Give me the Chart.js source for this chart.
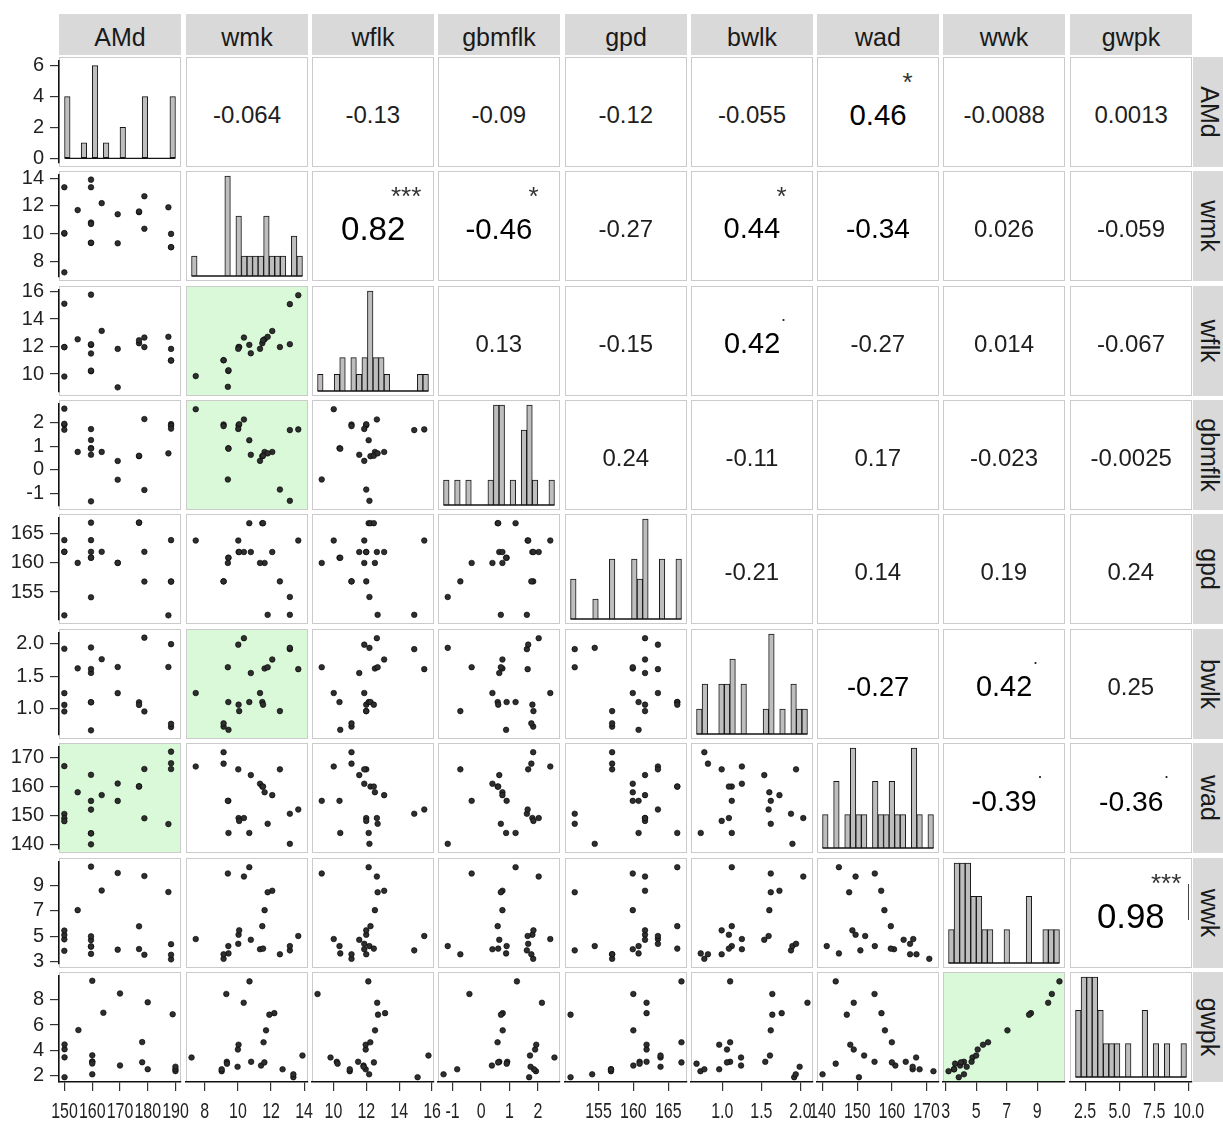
<!DOCTYPE html>
<html><head><meta charset="utf-8">
<script src="https://cdn.jsdelivr.net/npm/chart.js@4.4.1/dist/chart.umd.min.js"></script>
<style>
html,body{margin:0;padding:0;background:#fff;}
body{width:1223px;height:1122px;position:relative;overflow:hidden;font-family:"Liberation Sans",Arial,Helvetica,sans-serif;}
.panel{position:absolute;box-sizing:border-box;border:1.5px solid #cbcbcb;background:#fff;}
.strip{position:absolute;background:#d9d9d9;overflow:hidden;}
.txt{position:absolute;white-space:nowrap;}
canvas{position:absolute;}
</style></head><body>
<script>
// ================= DATA =================
const variables = ['AMd','wmk','wflk','gbmflk','gpd','bwlk','wad','wwk','gwpk'];

const AMd    = [150,150,150,150,155,160,160,160,160,160,160,164,170,170,178,178,180,180,189,190,190,190];
const wmk    = [7.2,13.35,10.0,10.04,11.7,10.8,9.33,13.9,9.34,10.7,13.35,12.2,11.4,9.3,11.55,11.6,12.7,10.35,11.9,9.02,9.02,9.98];
const wflk   = [9.82,15.12,11.96,11.96,12.53,11.5,10.2,15.78,10.25,12.12,12.17,13.14,11.83,9.03,12.24,12.46,11.96,12.66,12.71,10.99,10.99,11.83];
const gbmflk = [2.58,1.69,1.9,1.94,0.76,0.64,0.92,1.72,0.9,1.26,-1.32,0.76,0.38,-0.41,0.58,0.6,-0.84,2.14,0.7,1.93,1.86,1.74];
const gpd    = [163.9,151,161.9,161.9,160,161.9,160.9,163.9,160.9,166.9,154.1,161.9,160,160,166.9,166.9,156.8,161.9,151,156.8,156.8,163.9];
const bwlk   = [1.24,1.92,1.06,0.96,1.62,1.55,1.1,1.61,0.67,1.1,1.94,1.76,1.24,1.64,1.1,1.06,0.96,2.09,1.64,0.72,0.77,1.99];
const wad    = [167,150.5,149,148,158,164,155,152,143.8,143.8,140,157,161,155,160,160,166,149,147,172,168,166];
const wwk    = [4.76,3.86,5.1,5.45,7.05,4.7,4.2,5.0,3.62,10.46,4.2,8.59,3.95,9.96,5.78,4.0,3.55,9.72,8.47,3.19,3.55,4.38];
const gwpk   = [3.44,1.87,4.08,4.46,5.6,3.1,3.1,3.6,2.95,9.5,2.1,6.97,2.8,8.5,4.65,3.05,2.5,7.8,6.85,2.35,2.5,2.7];

// tick labels
const ticksAMd    = ['150','160','170','180','190'];
const ticksWmk    = ['8','10','12','14'];
const ticksWflk   = ['10','12','14','16'];
const ticksGbmflk = ['-1','0','1','2'];
const ticksGpd    = ['155','160','165'];
const ticksBwlk   = ['1.0','1.5','2.0'];
const ticksWad    = ['140','150','160','170'];
const ticksWwk    = ['3','5','7','9'];
const ticksGwpk   = ['2','4','6','8'];
const ticksCount  = ['0','2','4','6'];
const ticksGwpkHist = ['2.5','5.0','7.5','10.0'];

// upper-triangle correlation labels (row i, columns i+1..8)
const corrLabels = [
  ['-0.064','-0.13','-0.09','-0.12','-0.055','0.46','-0.0088','0.0013'],
  ['0.82','-0.46','-0.27','0.44','-0.34','0.026','-0.059'],
  ['0.13','-0.15','0.42','-0.27','0.014','-0.067'],
  ['0.24','-0.11','0.17','-0.023','-0.0025'],
  ['-0.21','0.14','0.19','0.24'],
  ['-0.27','0.42','0.25'],
  ['-0.39','-0.36'],
  ['0.98']
];
const corrSig = [
  ['','','','','','*','',''],
  ['***','*','','*','','',''],
  ['','','.','','',''],
  ['','','','',''],
  ['','','',''],
  ['','.',''],
  ['.','.'],
  ['***']
];

// ================= STYLE / LAYOUT =================
const FONT = '"Liberation Sans", Arial, Helvetica, sans-serif';
const TICK_COLOR = '#222';
const emphExtra = [[1,6],[5,6]]; // larger text without significance mark
const COL_X = [59,186,312,438,565,691,817,943,1070], PW = 122;
const ROW_Y = [57,171,286,400,514,629,743,858,972], PH = 110;
const N = variables.length;
const data = {AMd, wmk, wflk, gbmflk, gpd, bwlk, wad, wwk, gwpk};
const varTicks = {AMd:ticksAMd, wmk:ticksWmk, wflk:ticksWflk, gbmflk:ticksGbmflk, gpd:ticksGpd,
                  bwlk:ticksBwlk, wad:ticksWad, wwk:ticksWwk, gwpk:ticksGwpk};

Chart.defaults.font.family = FONT;
Chart.defaults.animation = false;

function range(v){ const mn=Math.min(...v), mx=Math.max(...v), r=mx-mn; return {min:mn-0.05*r, max:mx+0.05*r}; }
function histogram(v){
  const nb = 20, mn = Math.min(...v), mx = Math.max(...v);
  const w = (mx-mn)/(nb-1), b = w/2;
  const o = b + Math.floor((mn-b)/w)*w;
  const counts = new Array(nb).fill(0);
  v.forEach(x => { let k = Math.ceil((x-o)/w - 1e-7) - 1; k = Math.max(0, Math.min(nb-1, k)); counts[k]++; });
  return {o, w, nb, counts, maxc: Math.max(...counts)};
}
function el(tag, cls, style, text){
  const e = document.createElement(tag); if (cls) e.className = cls;
  Object.assign(e.style, style); if (text !== undefined) e.textContent = text;
  document.body.appendChild(e); return e;
}
function bottomLabelPlugin(labels){
  return { id:'bottomLabels', afterDraw(chart){
    const s = chart.scales.x, ctx = chart.ctx;
    ctx.save(); ctx.font = '21px ' + FONT; ctx.fillStyle = TICK_COLOR;
    ctx.textAlign = 'center'; ctx.textBaseline = 'alphabetic';
    labels.forEach(l => {
      const px = s.getPixelForValue(parseFloat(l));
      ctx.save(); ctx.translate(px, s.top + 36); ctx.scale(0.76, 1.04); ctx.fillText(l, 0, 0); ctx.restore();
    });
    ctx.restore();
  }};
}
function axisCfg(show, mn, mx, ticks, isX, size){
  return {
    type:'linear', min:mn, max:mx, display:show, offset:false,
    afterBuildTicks: s => { s.ticks = ticks.map(t => ({value: parseFloat(t)})); },
    afterFit: s => { if (!show) return; if (isX) s.height = size; else s.width = size; },
    grid:{display:true, offset:false, drawOnChartArea:false, drawTicks:true, tickLength:9, color:'#333', lineWidth:1.2},
    border:{display:true, color:'#111', width:1.5},
    ticks:{display:show && !isX, autoSkip:false, padding:6, color:TICK_COLOR, font:{size:20, family:FONT},
           callback:(v,i) => ticks[i]}
  };
}
function isGreen(r, c){ // lower cell r>c
  const s = corrSig[c][r-c-1]; return s.indexOf('*') >= 0;
}

// ---- strips ----
variables.forEach((v, i) => {
  el('div','strip',{left:COL_X[i]+'px', top:'14px', width:PW+'px', height:'41px'});
  el('div','txt',{left:COL_X[i]+'px', top:(37.5-0.4885*25)+'px', width:PW+'px', textAlign:'center',
      fontSize:'25px', lineHeight:'25px', color:'#1a1a1a'}, v);
  el('div','strip',{left:'1193px', top:ROW_Y[i]+'px', width:'40px', height:PH+'px'});
  const cy = ROW_Y[i] + PH/2;
  el('div','txt',{left:(1210-55)+'px', top:(cy-17)+'px', width:'110px', height:'34px', lineHeight:'34px',
      textAlign:'center', fontSize:'25px', color:'#1a1a1a', transform:'rotate(90deg)', transformOrigin:'50% 50%'}, v);
});

// ---- panels ----
for (let r = 0; r < N; r++) {
  for (let c = 0; c < N; c++) {
    const bg = (r > c && isGreen(r,c)) ? '#d9f9d9' : '#fff';
    el('div','panel',{left:COL_X[c]+'px', top:ROW_Y[r]+'px', width:PW+'px', height:PH+'px', background:bg});
    if (c > r) {
      // correlation text
      const lab = corrLabels[r][c-r-1], sig = corrSig[r][c-r-1];
      const absr = Math.abs(parseFloat(lab));
      const emph = sig !== '' || emphExtra.some(p => p[0]===r && p[1]===c);
      const F = emph ? 24.5 + 10.5*absr : 24;
      const cx = COL_X[c] + PW/2, cy = ROW_Y[r] + PH/2 + 2.5;
      const t = el('div','txt',{left:'0px', top:(cy-0.4885*F)+'px', fontSize:F+'px', lineHeight:F+'px',
          color: emph ? '#000' : '#1e1e1e'}, lab);
      const tw = t.offsetWidth;
      t.style.left = (cx - tw/2) + 'px';
      const right = cx + tw/2;
      if (sig.indexOf('*') >= 0) {
        const s = el('div','txt',{left:'0px', top:(cy-38-0.28*26)+'px', fontSize:'26px', lineHeight:'26px', color:'#333'}, sig);
        s.style.left = (right - s.offsetWidth/2 + 1) + 'px';
      } else if (sig === '.') {
        el('div','txt',{left:(right+1)+'px', top:(cy-23-0.8*18)+'px', fontSize:'18px', lineHeight:'18px', color:'#222'}, '.');
      }
      continue;
    }
    const showY = c === 0, showX = r === N-1;
    const axisW = showY ? COL_X[0] : 0, axisH = showX ? 48 : 0;
    const padT = showY ? 14 : 0, padB = (showY && !showX) ? 14 : 0;
    const padL = (showX && !showY) ? 24 : 0, padR = showX ? 24 : 0;
    const left = COL_X[c] - axisW - padL, top = ROW_Y[r] - padT;
    const w = padL + axisW + PW + padR, h = padT + PH + axisH + padB;
    const cv = document.createElement('canvas');
    cv.width = w; cv.height = h;
    Object.assign(cv.style, {left:left+'px', top:top+'px', width:w+'px', height:h+'px'});
    document.body.appendChild(cv);
    let cfg;
    const plugins = [];
    if (r === c) {
      const v = variables[r], hg = histogram(data[v]);
      const xTicks = showX ? ticksGwpkHist : [], yTicks = showY ? ticksCount : [];
      if (showX) plugins.push(bottomLabelPlugin(xTicks));
      cfg = {
        type:'bar',
        data:{datasets:[
          {type:'bar', data: hg.counts.map((n,k) => ({x: hg.o + (k+0.5)*hg.w, y: n})),
           backgroundColor:'#bebebe', borderColor:'#151515', borderWidth:1, borderSkipped:false,
           barPercentage:1, categoryPercentage:1},
          {type:'line', data:[{x:hg.o, y:0},{x:hg.o+hg.nb*hg.w, y:0}], borderColor:'#151515', borderWidth:1.3,
           pointRadius:0, fill:false}
        ]},
        options:{responsive:false, animation:false, events:[],
          layout:{padding:{left:padL, right:padR, top:padT, bottom:padB}},
          plugins:{legend:{display:false}, tooltip:{enabled:false}},
          scales:{
            x: axisCfg(showX, hg.o - hg.w, hg.o + (hg.nb+1)*hg.w, xTicks, true, axisH),
            y: axisCfg(showY, -0.05*hg.maxc, 1.05*hg.maxc, yTicks, false, axisW)
          }}
      };
    } else {
      const xv = variables[c], yv = variables[r];
      const xr = range(data[xv]), yr = range(data[yv]);
      const xTicks = showX ? varTicks[xv] : [], yTicks = showY ? varTicks[yv] : [];
      if (showX) plugins.push(bottomLabelPlugin(xTicks));
      cfg = {
        type:'scatter',
        data:{datasets:[{data: data[xv].map((x,i) => ({x, y: data[yv][i]})),
          pointRadius:2.8, pointBackgroundColor:'#2e2e2e', pointBorderColor:'#000', pointBorderWidth:0.6}]},
        options:{responsive:false, animation:false, events:[],
          layout:{padding:{left:padL, right:padR, top:padT, bottom:padB}},
          plugins:{legend:{display:false}, tooltip:{enabled:false}},
          scales:{
            x: axisCfg(showX, xr.min, xr.max, xTicks, true, axisH),
            y: axisCfg(showY, yr.min, yr.max, yTicks, false, axisW)
          }}
      };
    }
    cfg.plugins = plugins;
    new Chart(cv.getContext('2d'), cfg);
  }
}
// small vertical mark present in the 0.98 cell
el('div','',{position:'absolute', left:'1188px', top:'884px', width:'1.3px', height:'36px', background:'#444'});
</script>
</body></html>
